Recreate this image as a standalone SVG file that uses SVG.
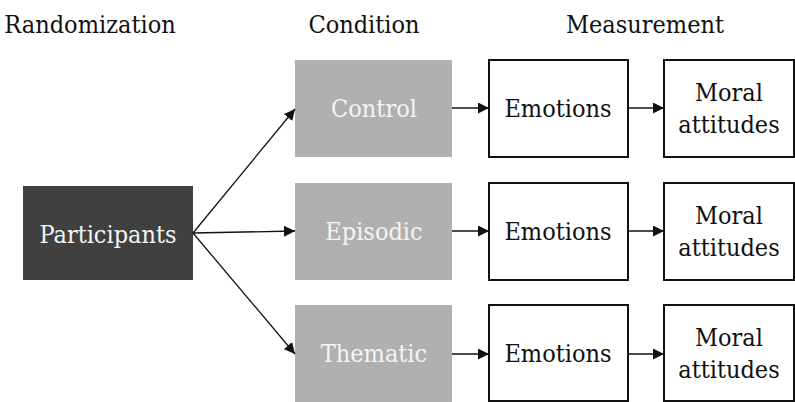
<svg xmlns="http://www.w3.org/2000/svg" width="795" height="402" viewBox="0 0 795 402">
<style>
text{text-anchor:middle;font-family:"DejaVu Serif Condensed","DejaVu Serif",serif;font-stretch:condensed}
.h{font-size:25px;fill:#111}
.t{font-size:25px}
.w{fill:#f4f4f4}
.k{fill:#111}
.cond{fill:#b0b0b0}
.meas{fill:#fff;stroke:#111;stroke-width:2}
.c line{stroke:#111;stroke-width:1.3;marker-end:url(#ah)}
</style>
<defs>
<marker id="ah" viewBox="0 0 10 10" refX="10" refY="5" markerWidth="11" markerHeight="11" markerUnits="userSpaceOnUse" orient="auto"><path d="M0,0 L10,5 L0,10 z" fill="#111"/></marker>
</defs>
<rect width="795" height="402" fill="#fff"/>
<text class="h" x="90" y="33">Randomization</text>
<text class="h" x="364" y="33">Condition</text>
<text class="h" x="645" y="33">Measurement</text>
<g id="participants"><rect x="23" y="186" width="170" height="94" fill="#404040"/><text class="t w" x="108" y="243">Participants</text></g>
<g id="control"><rect class="cond" x="295" y="60" width="157" height="97"/><text class="t w" x="374" y="117">Control</text></g>
<g id="episodic"><rect class="cond" x="295" y="183" width="157" height="97"/><text class="t w" x="374" y="240">Episodic</text></g>
<g id="thematic"><rect class="cond" x="295" y="305" width="157" height="97"/><text class="t w" x="374" y="362">Thematic</text></g>
<g id="emotions1"><rect class="meas" x="489" y="60" width="139" height="97"/><text class="t k" x="558" y="117">Emotions</text></g>
<g id="emotions2"><rect class="meas" x="489" y="183" width="139" height="97"/><text class="t k" x="558" y="240">Emotions</text></g>
<g id="emotions3"><rect class="meas" x="489" y="305" width="139" height="96"/><text class="t k" x="558" y="362">Emotions</text></g>
<g id="moral1"><rect class="meas" x="664" y="60" width="130" height="97"/><text class="t k" x="729" y="101">Moral</text><text class="t k" x="729" y="133">attitudes</text></g>
<g id="moral2"><rect class="meas" x="664" y="183" width="130" height="97"/><text class="t k" x="729" y="224">Moral</text><text class="t k" x="729" y="256">attitudes</text></g>
<g id="moral3"><rect class="meas" x="664" y="305" width="130" height="96"/><text class="t k" x="729" y="346">Moral</text><text class="t k" x="729" y="378">attitudes</text></g>
<g class="c" id="connectors">
<line x1="193" y1="233" x2="295" y2="109"/>
<line x1="193" y1="233" x2="295" y2="231"/>
<line x1="193" y1="233" x2="295" y2="354"/>
<line x1="452" y1="108" x2="489" y2="108"/>
<line x1="452" y1="231" x2="489" y2="231"/>
<line x1="452" y1="354" x2="489" y2="354"/>
<line x1="628" y1="108" x2="664" y2="108"/>
<line x1="628" y1="231" x2="664" y2="231"/>
<line x1="628" y1="354" x2="664" y2="354"/>
</g>
</svg>
